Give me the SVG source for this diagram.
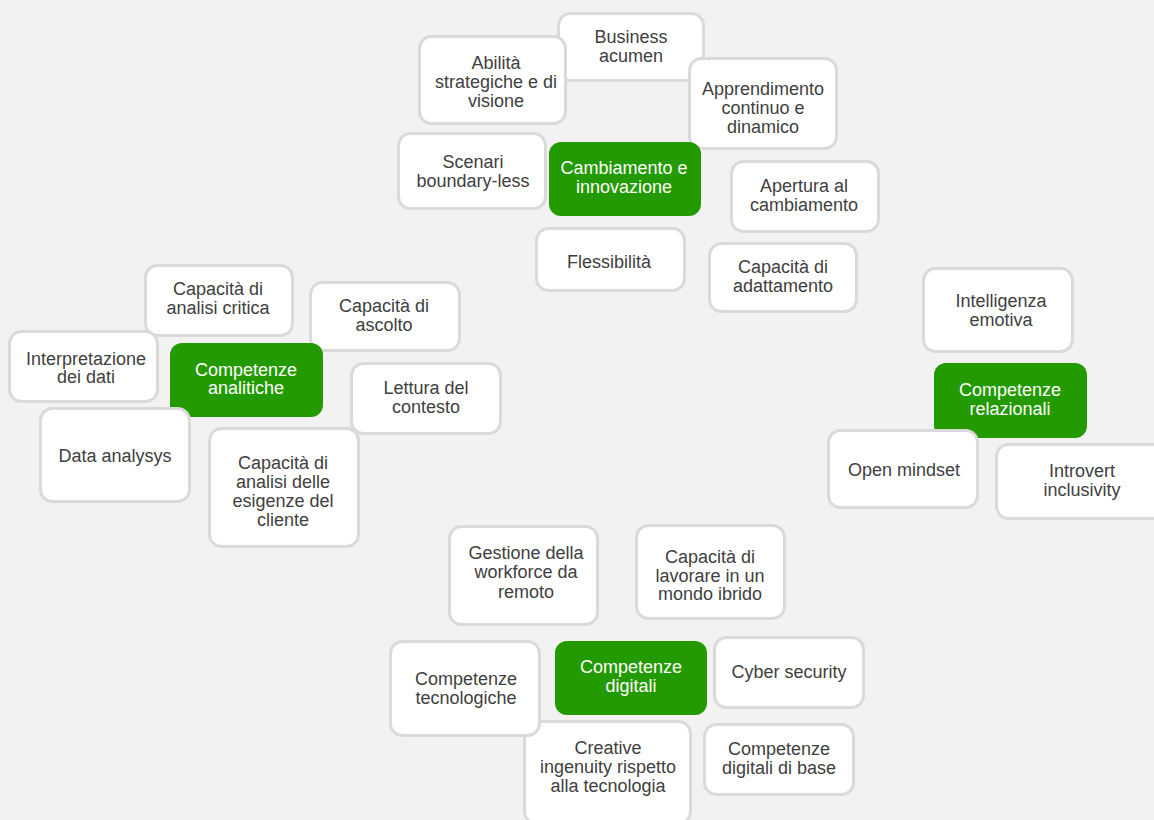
<svg xmlns="http://www.w3.org/2000/svg" width="1154" height="820" viewBox="0 0 1154 820">
  <style>
    .card { fill: #ffffff; stroke: #dadada; stroke-width: 3; }
    .hub { fill: #239a00; }
    text { font-family: "Liberation Sans", Arial, sans-serif; font-size: 18px; text-anchor: middle; }
    .t { fill: #404040; }
    .h { fill: #ffffff; }
  </style>
  <rect x="0" y="0" width="1154" height="820" fill="#f2f2f2"/>

  <!-- Cambiamento e innovazione cluster -->
  <g id="business-acumen"><rect class="card" x="558.5" y="13.5" width="145" height="67" rx="12"/>
    <text class="t" x="631" y="43">Business</text><text class="t" x="631" y="62">acumen</text></g>
  <g id="abilita-strategiche"><rect class="card" x="419.5" y="36.5" width="146" height="87" rx="12"/>
    <text class="t" x="496" y="69">Abilità</text><text class="t" x="496" y="88">strategiche e di</text><text class="t" x="496" y="107">visione</text></g>
  <g id="apprendimento"><rect class="card" x="689.5" y="58.5" width="147" height="90" rx="12"/>
    <text class="t" x="763" y="95">Apprendimento</text><text class="t" x="763" y="114">continuo e</text><text class="t" x="763" y="133">dinamico</text></g>
  <g id="scenari"><rect class="card" x="398.5" y="133.5" width="147" height="75" rx="12"/>
    <text class="t" x="473" y="168">Scenari</text><text class="t" x="473" y="187">boundary-less</text></g>
  <g id="cambiamento-innovazione"><rect class="hub" x="549" y="142" width="152" height="74" rx="12"/>
    <text class="h" x="624" y="174">Cambiamento e</text><text class="h" x="624" y="193">innovazione</text></g>
  <g id="apertura"><rect class="card" x="731.5" y="161.5" width="147" height="70" rx="12"/>
    <text class="t" x="804" y="192">Apertura al</text><text class="t" x="804" y="211">cambiamento</text></g>
  <g id="flessibilita"><rect class="card" x="536.5" y="228.5" width="148" height="62" rx="12"/>
    <text class="t" x="609" y="268">Flessibilità</text></g>
  <g id="adattamento"><rect class="card" x="709.5" y="243.5" width="147" height="68" rx="12"/>
    <text class="t" x="783" y="273">Capacità di</text><text class="t" x="783" y="292">adattamento</text></g>

  <!-- Competenze analitiche cluster -->
  <g id="analisi-critica"><rect class="card" x="145.5" y="265.5" width="147" height="70" rx="12"/>
    <text class="t" x="218" y="295">Capacità di</text><text class="t" x="218" y="314">analisi critica</text></g>
  <g id="interpretazione-dati"><rect class="card" x="9.5" y="331.5" width="148" height="70" rx="12"/>
    <text class="t" x="86" y="365">Interpretazione</text><text class="t" x="86" y="383">dei dati</text></g>
  <g id="ascolto"><rect class="card" x="310.5" y="282.5" width="149" height="68" rx="12"/>
    <text class="t" x="384" y="312">Capacità di</text><text class="t" x="384" y="331">ascolto</text></g>
  <g id="competenze-analitiche"><rect class="hub" x="170" y="343" width="153" height="74" rx="12"/>
    <text class="h" x="246" y="376">Competenze</text><text class="h" x="246" y="394">analitiche</text></g>
  <g id="lettura-contesto"><rect class="card" x="351.5" y="363.5" width="149" height="70" rx="12"/>
    <text class="t" x="426" y="394">Lettura del</text><text class="t" x="426" y="413">contesto</text></g>
  <g id="data-analysys"><rect class="card" x="40.5" y="408.5" width="149" height="93" rx="12"/>
    <text class="t" x="115" y="462">Data analysys</text></g>
  <g id="esigenze-cliente"><rect class="card" x="209.5" y="428.5" width="149" height="118" rx="12"/>
    <text class="t" x="283" y="469">Capacità di</text><text class="t" x="283" y="488">analisi delle</text><text class="t" x="283" y="507">esigenze del</text><text class="t" x="283" y="526">cliente</text></g>

  <!-- Competenze relazionali cluster -->
  <g id="intelligenza-emotiva"><rect class="card" x="923.5" y="268.5" width="149" height="83" rx="12"/>
    <text class="t" x="1001" y="307">Intelligenza</text><text class="t" x="1001" y="326">emotiva</text></g>
  <g id="competenze-relazionali"><rect class="hub" x="934" y="363" width="153" height="75" rx="12"/>
    <text class="h" x="1010" y="396">Competenze</text><text class="h" x="1010" y="415">relazionali</text></g>
  <g id="open-mindset"><rect class="card" x="828.5" y="430.5" width="149" height="77" rx="12"/>
    <text class="t" x="904" y="476">Open mindset</text></g>
  <g id="introvert-inclusivity"><rect class="card" x="996.5" y="444.5" width="171" height="74" rx="12"/>
    <text class="t" x="1082" y="477">Introvert</text><text class="t" x="1082" y="496">inclusivity</text></g>

  <!-- Competenze digitali cluster -->
  <g id="workforce-remoto"><rect class="card" x="449.5" y="526.5" width="148" height="98" rx="12"/>
    <text class="t" x="526" y="559">Gestione della</text><text class="t" x="526" y="578">workforce da</text><text class="t" x="526" y="598">remoto</text></g>
  <g id="mondo-ibrido"><rect class="card" x="636.5" y="525.5" width="148" height="93" rx="12"/>
    <text class="t" x="710" y="563">Capacità di</text><text class="t" x="710" y="582">lavorare in un</text><text class="t" x="710" y="600">mondo ibrido</text></g>
  <g id="creative-ingenuity"><rect class="card" x="524.5" y="721.5" width="166" height="102" rx="12"/>
    <text class="t" x="608" y="754">Creative</text><text class="t" x="608" y="773">ingenuity rispetto</text><text class="t" x="608" y="792">alla tecnologia</text></g>
  <g id="competenze-tecnologiche"><rect class="card" x="390.5" y="641.5" width="149" height="94" rx="12"/>
    <text class="t" x="466" y="685">Competenze</text><text class="t" x="466" y="704">tecnologiche</text></g>
  <g id="competenze-digitali"><rect class="hub" x="555" y="641" width="152" height="74" rx="12"/>
    <text class="h" x="631" y="673">Competenze</text><text class="h" x="631" y="692">digitali</text></g>
  <g id="cyber-security"><rect class="card" x="714.5" y="637.5" width="149" height="70" rx="12"/>
    <text class="t" x="789" y="678">Cyber security</text></g>
  <g id="digitali-di-base"><rect class="card" x="704.5" y="724.5" width="149" height="70" rx="12"/>
    <text class="t" x="779" y="755">Competenze</text><text class="t" x="779" y="774">digitali di base</text></g>
</svg>
